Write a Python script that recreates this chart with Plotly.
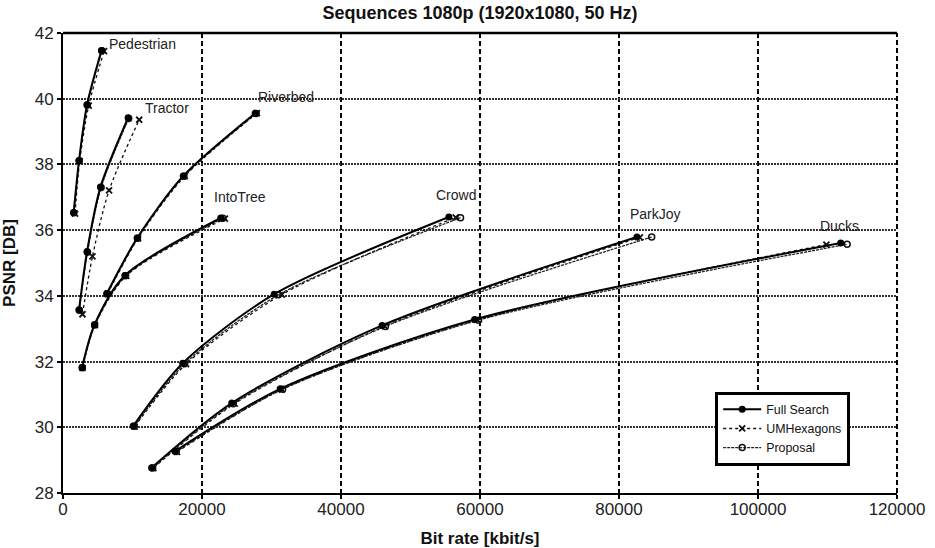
import plotly.graph_objects as go

# ---------------- data ----------------
sequences = ["Pedestrian", "Tractor", "Riverbed", "IntoTree", "Crowd", "ParkJoy", "Ducks"]

fs_rate = {
    "Pedestrian": [1540, 2310, 3460, 5540],
    "Tractor": [2310, 3460, 5390, 9370],
    "Riverbed": [6300, 10670, 17300, 27650],
    "IntoTree": [2750, 4530, 8900, 22700],
    "Crowd": [10100, 17220, 30380, 55520],
    "ParkJoy": [12750, 24280, 45910, 82580],
    "Ducks": [16110, 31250, 59220, 111900],
}
fs_psnr = {
    "Pedestrian": [36.54, 38.12, 39.82, 41.47],
    "Tractor": [33.58, 35.35, 37.31, 39.42],
    "Riverbed": [34.07, 35.76, 37.65, 39.56],
    "IntoTree": [31.82, 33.12, 34.62, 36.37],
    "Crowd": [30.04, 31.95, 34.05, 36.40],
    "ParkJoy": [28.77, 30.74, 33.10, 35.79],
    "Ducks": [29.27, 31.17, 33.28, 35.61],
}
umh_rate = {
    "Pedestrian": [1730, 2400, 3700, 5910],
    "Tractor": [2800, 4240, 6630, 10960],
    "Riverbed": [6400, 10800, 17500, 27900],
    "IntoTree": [2800, 4600, 9100, 23300],
    "Crowd": [10300, 17700, 31490, 56500],
    "ParkJoy": [13000, 24700, 46300, 83000],
    "Ducks": [16400, 31500, 59600, 109840],
}
umh_psnr = {
    "Pedestrian": [36.50, 38.10, 39.79, 41.45],
    "Tractor": [33.44, 35.20, 37.21, 39.36],
    "Riverbed": [34.06, 35.75, 37.64, 39.56],
    "IntoTree": [31.81, 33.11, 34.61, 36.35],
    "Crowd": [30.02, 31.92, 34.04, 36.39],
    "ParkJoy": [28.76, 30.72, 33.08, 35.78],
    "Ducks": [29.25, 31.15, 33.27, 35.56],
}
prop_rate = {
    "Pedestrian": [1560, 2330, 3500, 5600],
    "Tractor": [2350, 3520, 5480, 9450],
    "Riverbed": [6350, 10720, 17400, 27800],
    "IntoTree": [2780, 4560, 9000, 23000],
    "Crowd": [10250, 17500, 31000, 57200],
    "ParkJoy": [12900, 24500, 46390, 84700],
    "Ducks": [16300, 31600, 59800, 112830],
}
prop_psnr = {
    "Pedestrian": [36.53, 38.11, 39.81, 41.46],
    "Tractor": [33.56, 35.33, 37.30, 39.40],
    "Riverbed": [34.06, 35.75, 37.64, 39.55],
    "IntoTree": [31.81, 33.11, 34.61, 36.36],
    "Crowd": [30.03, 31.93, 34.03, 36.38],
    "ParkJoy": [28.76, 30.72, 33.07, 35.79],
    "Ducks": [29.26, 31.16, 33.26, 35.57],
}

label_x = [6260, 11500, 27780, 21400, 53350, 81240, 108640]
label_y = [41.68, 39.73, 40.04, 37.0, 37.06, 36.5, 36.12]

x_ticks = [0, 20000, 40000, 60000, 80000, 100000, 120000]
y_ticks = [28, 30, 32, 34, 36, 38, 40, 42]

title = "Sequences 1080p (1920x1080, 50 Hz)"
x_title = "Bit rate [kbit/s]"
y_title = "PSNR [DB]"

# ---------------- figure ----------------
fig = go.Figure()
FONT = "Liberation Sans, Arial, sans-serif"

methods = [
    ("UMHexagons", umh_rate, umh_psnr,
     dict(color="#111", width=1.3, dash="dot"),
     dict(symbol="x-thin", size=6, color="#111", line=dict(color="#111", width=1.8)), 2),
    ("Proposal", prop_rate, prop_psnr,
     dict(color="#222", width=1.3, dash="3px,1px"),
     dict(symbol="circle-open", size=6, color="#111", line=dict(color="#111", width=1.5)), 3),
    ("Full Search", fs_rate, fs_psnr,
     dict(color="#000", width=2),
     dict(symbol="circle", size=7, color="#000"), 1),
]

for name, rates, psnrs, line, marker, rank in methods:
    for i, seq in enumerate(sequences):
        fig.add_trace(go.Scatter(
            x=rates[seq], y=psnrs[seq], mode="lines+markers",
            line=dict(shape="spline", smoothing=0.8, **line),
            marker=marker,
            name=name, legendgroup=name, legendrank=rank,
            showlegend=(i == 0),
        ))

for seq, lx, ly in zip(sequences, label_x, label_y):
    fig.add_annotation(x=lx, y=ly, text=seq, showarrow=False, xanchor="left",
                       yanchor="middle", font=dict(family=FONT, size=14, color="#222"))

# frame lines: top solid, right dashed
fig.add_shape(type="line", xref="paper", yref="paper", x0=0, x1=1, y0=1, y1=1,
              line=dict(color="#000", width=2.5), layer="below")
fig.add_shape(type="line", xref="paper", yref="paper", x0=1, x1=1, y0=0, y1=1,
              line=dict(color="#000", width=2, dash="5px,3px"), layer="below")

fig.update_layout(
    width=935, height=548,
    margin=dict(l=63, r=38, t=33, b=55, autoexpand=False),
    paper_bgcolor="white", plot_bgcolor="white",
    font=dict(family=FONT, size=17, color="#222"),
    title=dict(text="<b>" + title + "</b>", x=0.5, xref="paper", xanchor="center",
               y=1 - 13 / 548, yref="container", yanchor="middle",
               font=dict(family=FONT, size=18, color="#111")),
    showlegend=True,
    legend=dict(x=0.782, y=0.22, xanchor="left", yanchor="top",
                bgcolor="white", bordercolor="#000", borderwidth=3,
                font=dict(family=FONT, size=12.4, color="#111"),
                tracegroupgap=0, itemwidth=38),
    xaxis=dict(range=[0, 120000], tickvals=x_ticks, ticktext=[str(v) for v in x_ticks],
               showgrid=True, gridcolor="#000", gridwidth=1.5, griddash="5px,3px",
               showline=True, linecolor="#000", linewidth=2,
               ticks="outside", ticklen=4, tickwidth=1.5, tickcolor="#000",
               ticklabelstandoff=-4,
               zeroline=False, automargin=False,
               title=dict(text="<b>" + x_title + "</b>",
                          font=dict(family=FONT, size=17, color="#111")),
               tickfont=dict(family=FONT, size=17, color="#222")),
    yaxis=dict(range=[28, 42], tickvals=y_ticks, ticktext=[str(v) for v in y_ticks],
               showgrid=True, gridcolor="#333", gridwidth=1.8, griddash="2px,1px",
               showline=True, linecolor="#000", linewidth=2,
               ticks="outside", ticklen=4, tickwidth=1.5, tickcolor="#000",
               zeroline=False, automargin=False,
               title=dict(text="<b>" + y_title + "</b>",
                          font=dict(family=FONT, size=17, color="#111")),
               tickfont=dict(family=FONT, size=17, color="#222")),
)

fig.write_html("out.html", config={"displayModeBar": False},
               post_script="document.body.style.margin='0';document.body.style.overflow='hidden';")
